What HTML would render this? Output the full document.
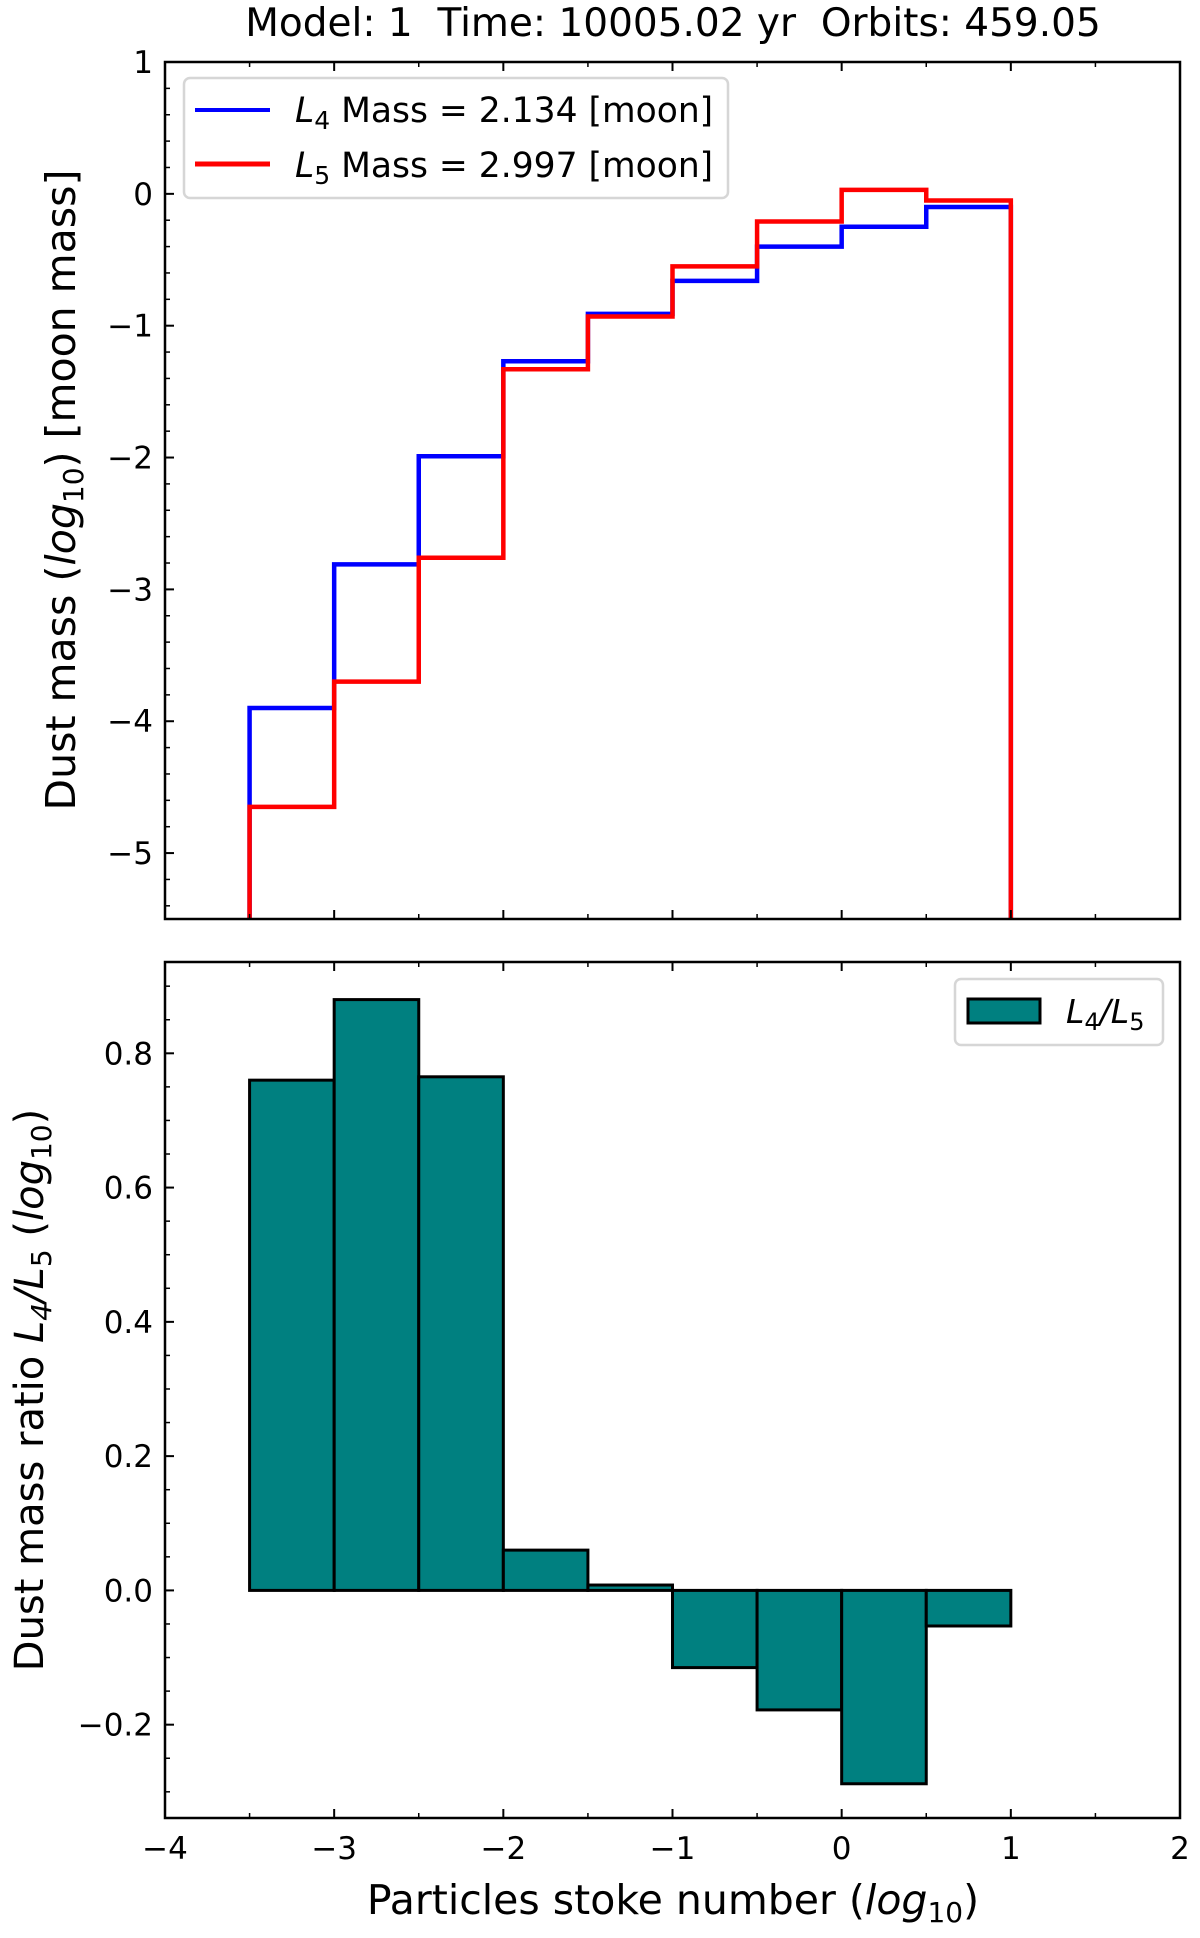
<!DOCTYPE html>
<html><head><meta charset="utf-8"><style>
html,body{margin:0;padding:0;background:#fff}
svg{display:block;font-family:"DejaVu Sans","Liberation Sans",sans-serif}
</style></head><body>
<svg id="chart" width="1200" height="1938" viewBox="0 0 1200 1938">
<text x="673" y="36" font-size="39" text-anchor="middle">Model: 1&#160;&#160;Time: 10005.02 yr&#160;&#160;Orbits: 459.05</text>
<g id="top"></g>
<g id="bot"></g>
</svg>
<script>
const binEdges=[-3.5,-3,-2.5,-2,-1.5,-1,-0.5,0,0.5,1];
const l4Mass=[-3.9,-2.81,-1.99,-1.27,-0.91,-0.66,-0.40,-0.25,-0.10];
const l5Mass=[-4.65,-3.70,-2.76,-1.33,-0.93,-0.55,-0.21,0.03,-0.05];
const ratioVals=[0.76,0.88,0.765,0.06,0.008,-0.115,-0.178,-0.288,-0.053];
const xTicks=[-4,-3,-2,-1,0,1,2];
const topYTicks=[1,0,-1,-2,-3,-4,-5];
const botYTicks=[0.8,0.6,0.4,0.2,0.0,-0.2];

const NS="http://www.w3.org/2000/svg";
const L=165,R=1180;
const X=v=>L+(v+4)/6*(R-L);
const T={top:62,bot:919,min:-5.5,max:1};
const B={top:962,bot:1818,min:-0.339,max:0.936};
const Yt=v=>T.bot-(v-T.min)/(T.max-T.min)*(T.bot-T.top);
const Yb=v=>B.bot-(v-B.min)/(B.max-B.min)*(B.bot-B.top);
function mk(p,tag,at,txt){const e=document.createElementNS(NS,tag);for(const k in at)e.setAttribute(k,at[k]);if(txt!==undefined)e.textContent=txt;p.appendChild(e);return e;}
const fmtNum=v=>(v<0?'\u2212':'')+Math.abs(v);
const fmtDec=v=>(v<-1e-9?'\u2212':'')+Math.abs(v).toFixed(1);

function axes(g,P,Y,yt,fmt,minStep,showXLabels){
  const f=mk(g,'rect',{x:L,y:P.top,width:R-L,height:P.bot-P.top,fill:'none',stroke:'#000','stroke-width':2.5});
  
  
  xTicks.forEach(v=>{
    mk(g,'line',{x1:X(v),x2:X(v),y1:P.bot,y2:P.bot-9,stroke:'#000','stroke-width':2});
    mk(g,'line',{x1:X(v),x2:X(v),y1:P.top,y2:P.top+9,stroke:'#000','stroke-width':2});
    if(showXLabels){const t=mk(g,'text',{x:X(v),y:P.bot+41,'font-size':31,'text-anchor':'middle'},fmtNum(v));
      
      }
  });
  for(let v=-3.5;v<2;v+=1){
    mk(g,'line',{x1:X(v),x2:X(v),y1:P.bot,y2:P.bot-5,stroke:'#000','stroke-width':1.5});
    mk(g,'line',{x1:X(v),x2:X(v),y1:P.top,y2:P.top+5,stroke:'#000','stroke-width':1.5});
  }
  yt.forEach(v=>{
    mk(g,'line',{x1:L,x2:L+9,y1:Y(v),y2:Y(v),stroke:'#000','stroke-width':2});
    const t=mk(g,'text',{x:L-12,y:Y(v)+11,'font-size':31,'text-anchor':'end'},fmt(v));
    
    
  });
  for(let v=Math.ceil(P.min/minStep)*minStep;v<=P.max;v+=minStep){
    mk(g,'line',{x1:L,x2:L+5,y1:Y(v),y2:Y(v),stroke:'#000','stroke-width':1.5});
  }
}

// top panel
const gt=document.getElementById('top');
function stepPath(vals){
  let d=`M${X(binEdges[0])},${T.bot}`;
  vals.forEach((v,i)=>{d+=` L${X(binEdges[i])},${Yt(v)} L${X(binEdges[i+1])},${Yt(v)}`;});
  d+=` L${X(binEdges[binEdges.length-1])},${T.bot}`;return d;
}
const p4=mk(gt,'path',{d:stepPath(l4Mass),fill:'none',stroke:'#0000ff','stroke-width':4.5});


const p5=mk(gt,'path',{d:stepPath(l5Mass),fill:'none',stroke:'#ff0000','stroke-width':4.5});


axes(gt,T,Yt,topYTicks,fmtNum,0.2,false);
const yl1=mk(gt,'text',{transform:'translate(75,490) rotate(-90)','font-size':41,'text-anchor':'middle'});


yl1.innerHTML='Dust mass (<tspan font-style="italic">log</tspan><tspan font-size="28" dy="8">10</tspan><tspan dy="-8">) [moon mass]</tspan>';
const lg=mk(gt,'g',{});


mk(lg,'rect',{x:184,y:78,width:544,height:120,rx:6,fill:'#fff',stroke:'#d6d6d6','stroke-width':2.5});
mk(lg,'line',{x1:195,x2:270,y1:110,y2:110,stroke:'#0000ff','stroke-width':4});
mk(lg,'line',{x1:195,x2:270,y1:164,y2:164,stroke:'#ff0000','stroke-width':5});
const t1=mk(lg,'text',{x:295,y:122,'font-size':34.5});
t1.innerHTML='<tspan font-style="italic">L</tspan><tspan font-size="25" dy="7">4</tspan><tspan dy="-7"> Mass = 2.134 [moon]</tspan>';


const t2=mk(lg,'text',{x:295,y:177,'font-size':34.5});
t2.innerHTML='<tspan font-style="italic">L</tspan><tspan font-size="25" dy="7">5</tspan><tspan dy="-7"> Mass = 2.997 [moon]</tspan>';



// bottom panel
const gb=document.getElementById('bot');
ratioVals.forEach((v,i)=>{
  const x0=X(binEdges[i]),x1=X(binEdges[i+1]);
  const y0=Yb(Math.max(v,0)),y1=Yb(Math.min(v,0));
  const r=mk(gb,'rect',{x:x0,y:y0,width:x1-x0,height:y1-y0,fill:'#008080',stroke:'#000','stroke-width':3});
  
  
});
axes(gb,B,Yb,botYTicks,fmtDec,0.05,true);
const yl2=mk(gb,'text',{transform:'translate(43,1390) rotate(-90)','font-size':40,'text-anchor':'middle'});


yl2.innerHTML='Dust mass ratio <tspan font-style="italic">L</tspan><tspan font-size="28" dy="8" font-style="italic">4</tspan><tspan dy="-8" font-style="italic">/L</tspan><tspan font-size="28" dy="8">5</tspan><tspan dy="-8"> (</tspan><tspan font-style="italic">log</tspan><tspan font-size="28" dy="8">10</tspan><tspan dy="-8">)</tspan>';
const xl=mk(gb,'text',{x:673,y:1914,'font-size':41,'text-anchor':'middle'});


xl.innerHTML='Particles stoke number (<tspan font-style="italic">log</tspan><tspan font-size="28" dy="8">10</tspan><tspan dy="-8">)</tspan>';
const lg2=mk(gb,'g',{});


mk(lg2,'rect',{x:955,y:979,width:208,height:66,rx:6,fill:'#fff',stroke:'#d6d6d6','stroke-width':2.5});
mk(lg2,'rect',{x:968,y:999,width:72,height:24,fill:'#008080',stroke:'#000','stroke-width':3});
const t3=mk(lg2,'text',{x:1066,y:1023,'font-size':33});
t3.innerHTML='<tspan font-style="italic">L</tspan><tspan font-size="24" dy="7">4</tspan><tspan dy="-7" font-style="italic">/L</tspan><tspan font-size="24" dy="7">5</tspan>';


</script>
</body></html>
